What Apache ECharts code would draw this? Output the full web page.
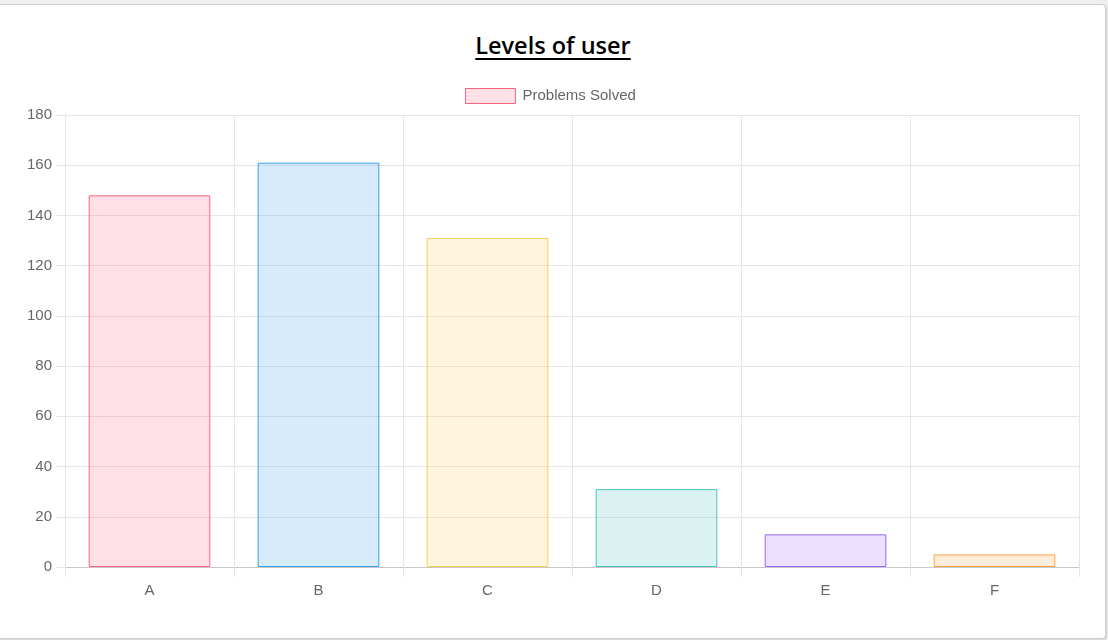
<!DOCTYPE html>
<html>
<head>
<meta charset="utf-8">
<script src="https://cdn.jsdelivr.net/npm/echarts@6/dist/echarts.min.js"></script>
<style>
  html, body { margin:0; padding:0; width:1108px; height:640px; overflow:hidden; background:#efefef; }
  #card { position:absolute; left:-6px; top:4px; width:1110px; height:633px; background:#fff;
          border:1px solid #cfcfcf; border-radius:4px; box-shadow:1px 1px 2px rgba(0,0,0,0.12); }
  #title { position:absolute; left:0; width:1106px; top:30px; text-align:center;
           font-family:'Open Sans', sans-serif; font-weight:600; font-size:23.5px; color:#000;
           text-decoration:underline; text-decoration-thickness:2px; text-underline-offset:4px; line-height:30px; }
  #chart { position:absolute; left:0; top:0; width:1108px; height:640px; }
</style>
</head>
<body>
<div id="card"></div>
<div id="title">Levels of user</div>
<div id="chart"></div>
<script>
const categories = ['A', 'B', 'C', 'D', 'E', 'F'];
const problemsSolved = [148, 161, 131, 31, 13, 5];
const seriesName = 'Problems Solved';
const fills = ['rgba(255,99,132,0.2)', 'rgba(54,162,235,0.2)', 'rgba(255,206,86,0.2)', 'rgba(75,192,192,0.2)', 'rgba(153,102,255,0.2)', 'rgba(255,159,64,0.2)'];
const borders = ['rgb(255,99,132)', 'rgb(54,162,235)', 'rgb(255,206,86)', 'rgb(75,192,192)', 'rgb(153,102,255)', 'rgb(255,159,64)'];

const font = "'Liberation Sans', Arial, sans-serif";
const gridColor = '#e6e6e6';
const chart = echarts.init(document.getElementById('chart'), null, { renderer: 'canvas' });
chart.setOption({
  animation: false,
  legend: {
    data: [seriesName],
    top: 83,
    left: 460,
    icon: 'rect',
    itemWidth: 50,
    itemHeight: 15,
    itemGap: 10,
    textStyle: { fontFamily: font, fontSize: 15, color: '#666', padding: [0, 0, 0, 2] },
    itemStyle: { color: fills[0], borderColor: borders[0], borderWidth: 1 }
  },
  grid: { left: 65, right: 29, top: 115, bottom: 73, containLabel: false },
  xAxis: {
    type: 'category',
    data: categories,
    boundaryGap: true,
    axisLine: { show: true, lineStyle: { color: '#c8c8c8', width: 1 } },
    axisTick: { show: true, length: 10, lineStyle: { color: gridColor } },
    splitLine: { show: true, lineStyle: { color: gridColor } },
    axisLabel: { margin: 16, fontFamily: font, fontSize: 15, color: '#666' }
  },
  yAxis: {
    type: 'value',
    min: 0, max: 180, interval: 20,
    axisLine: { show: true, lineStyle: { color: gridColor } },
    axisTick: { show: true, length: 9, lineStyle: { color: gridColor } },
    splitLine: { show: true, lineStyle: { color: gridColor } },
    axisLabel: { margin: 13, fontFamily: font, fontSize: 15, color: '#666' }
  },
  series: [{
    name: seriesName,
    type: 'bar',
    barCategoryGap: '28%',
    data: problemsSolved.map((v, i) => ({
      value: v,
      itemStyle: { color: fills[i], borderColor: borders[i], borderWidth: 1 }
    })),
    itemStyle: { color: fills[0], borderColor: borders[0], borderWidth: 1 },
    emphasis: { disabled: true }
  }]
});
</script>
</body>
</html>
